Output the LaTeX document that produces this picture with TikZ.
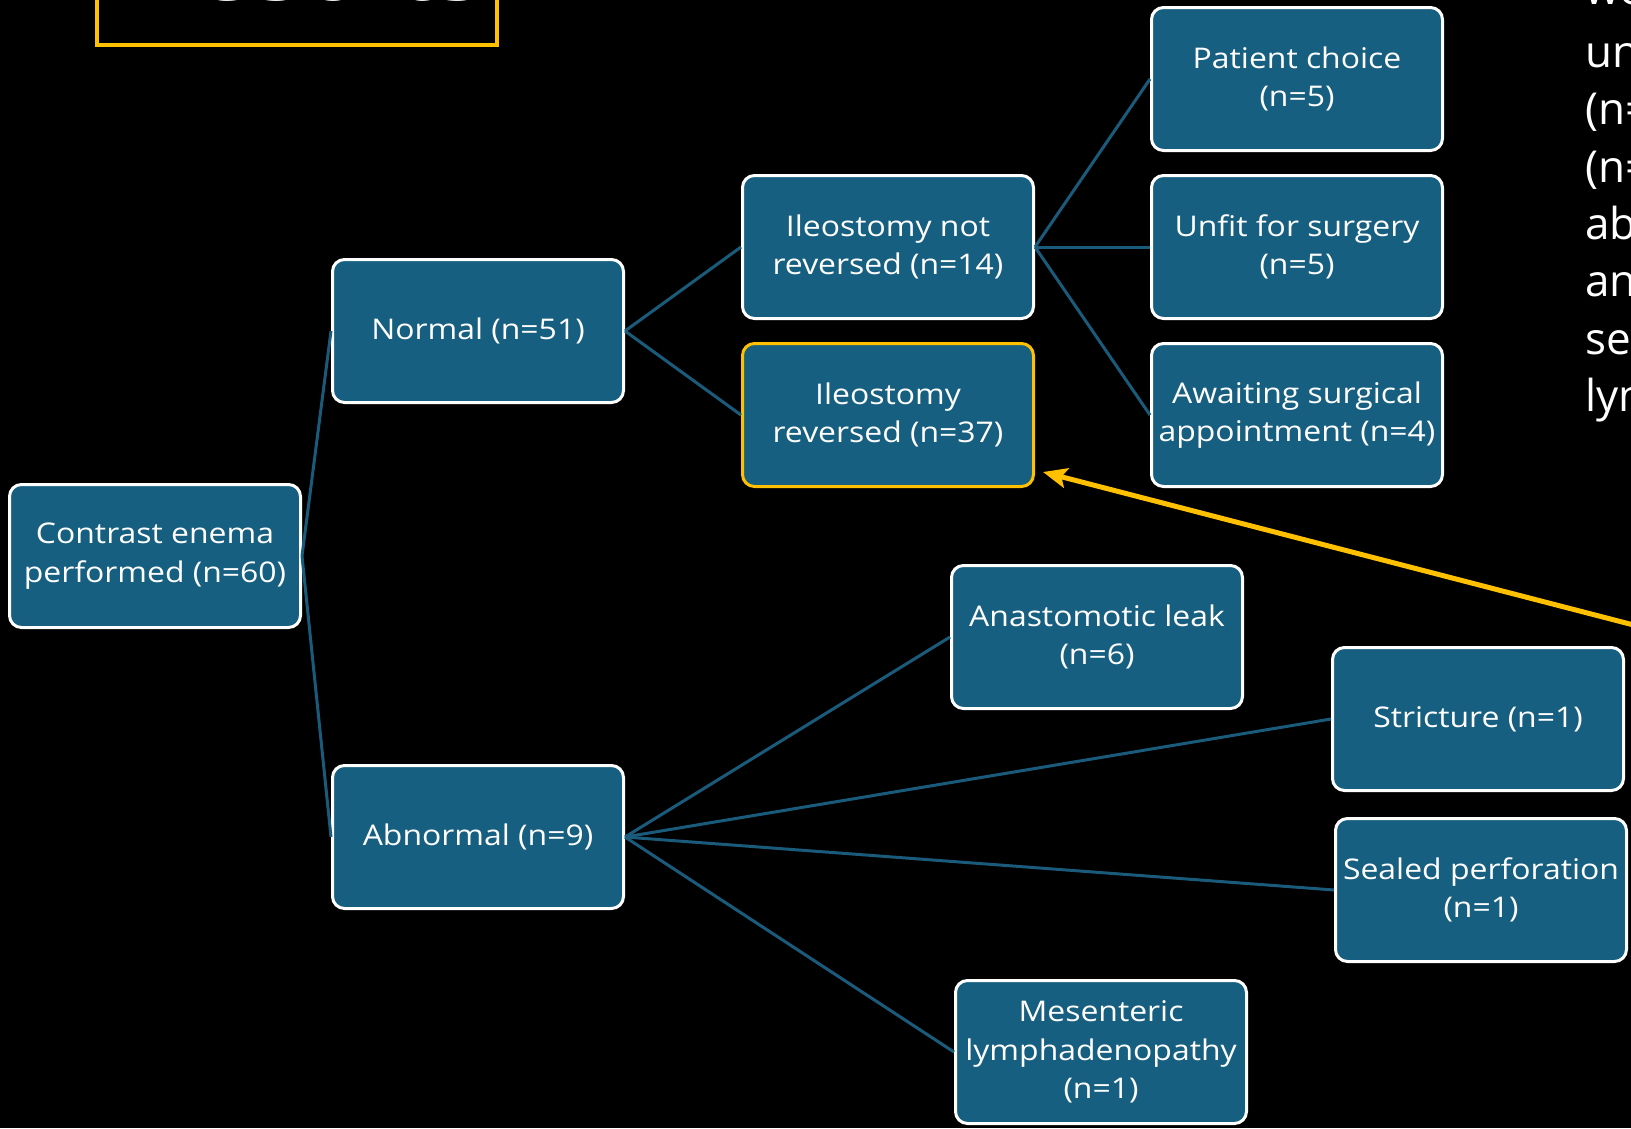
\documentclass[tikz,border=0pt]{standalone}
\usepackage{fontspec}
\setmainfont{Open Sans}[FakeStretch=1.12]
\newfontfamily\sidefont{Open Sans}
\usetikzlibrary{arrows.meta}
\definecolor{boxblue}{HTML}{175F80}
\definecolor{linkblue}{HTML}{1A5B7B}
\definecolor{gold}{HTML}{FFC000}
\begin{document}
\begin{tikzpicture}[x=1pt,y=-1pt,
  box/.style={draw=white, line width=3pt, fill=boxblue, rounded corners=12pt,
    minimum width=291pt, minimum height=143pt, align=center, text=white,
    font=\fontsize{28.5}{38.5}\selectfont, inner sep=2pt},
  goldbox/.style={box, draw=gold},
  link/.style={draw=linkblue, line width=3pt},
  sidetext/.style={anchor=base west, inner sep=0pt, text=white, font=\sidefont\fontsize{44}{50}\selectfont}]
\path[use as bounding box, fill=black] (0,0) rectangle (1631,1128);
\begin{scope}
\clip (0,0) rectangle (1631,1128);
% title box
\draw[gold, line width=4pt] (97,-30) rectangle (497,45);
\node[anchor=base west, inner sep=0pt, text=white, font=\fontsize{95}{100}\selectfont] (title) at (128,0) {Results};
% side text
\node[sidetext] (s1) at (1585,4) {we};
\node[sidetext] (s2) at (1585,67) {un};
\node[sidetext] (s3) at (1585,124) {(n=};
\node[sidetext] (s4) at (1585,182) {(n=};
\node[sidetext] (s5) at (1585,239) {ab};
\node[sidetext] (s6) at (1585,296) {an};
\node[sidetext] (s7) at (1585,354) {se};
\node[sidetext] (s8) at (1585,411) {lym};
% nodes
\node[box] (root) at (155,556) {Contrast enema\\performed (n=60)};
\node[box] (normal) at (478,331) {Normal (n=51)};
\node[box] (abn) at (478,837) {Abnormal (n=9)};
\node[box] (notrev) at (888,247) {Ileostomy not\\reversed (n=14)};
\node[goldbox] (rev) at (888,415) {Ileostomy\\reversed (n=37)};
\node[box] (pat) at (1297,79) {Patient choice\\(n=5)};
\node[box] (unfit) at (1297,247) {Unfit for surgery\\(n=5)};
\node[box] (await) at (1297,415) {Awaiting surgical\\appointment (n=4)};
\node[box] (leak) at (1097,637) {Anastomotic leak\\(n=6)};
\node[box] (strict) at (1478,719) {Stricture (n=1)};
\node[box] (perf) at (1481,890) {Sealed perforation\\(n=1)};
\node[box] (mes) at (1101,1052) {Mesenteric\\lymphadenopathy\\(n=1)};
% connectors
\draw[link] (root.east) -- (normal.west);
\draw[link] (root.east) -- (abn.west);
\draw[link] (normal.east) -- (notrev.west);
\draw[link] (normal.east) -- (rev.west);
\draw[link] (notrev.east) -- (pat.west);
\draw[link] (notrev.east) -- (unfit.west);
\draw[link] (notrev.east) -- (await.west);
\draw[link] (abn.east) -- (leak.west);
\draw[link] (abn.east) -- (strict.west);
\draw[link] (abn.east) -- (perf.west);
\draw[link] (abn.east) -- (mes.west);
% highlight arrow
\coordinate (atail) at (1680,637);
\coordinate (atip) at (1043,472);
\draw[gold, line width=5pt, -{Stealth[length=24pt,width=20pt,inset=5pt]}] (atail) -- (atip);
\end{scope}
\end{tikzpicture}
\end{document}
